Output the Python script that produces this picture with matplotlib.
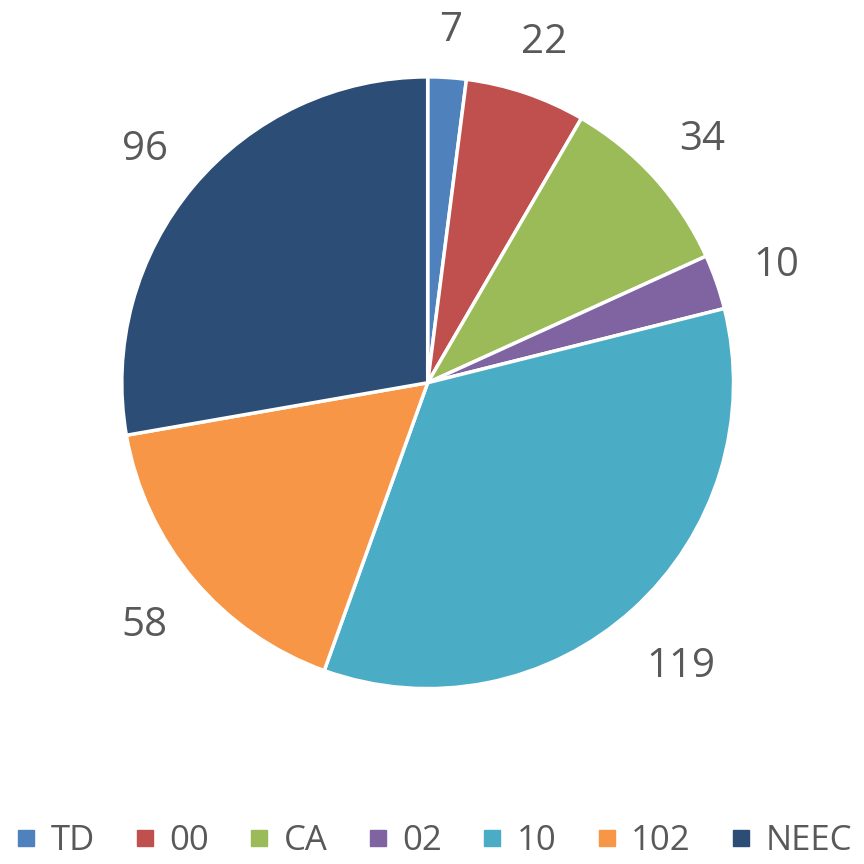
import matplotlib
matplotlib.use("Agg")
import matplotlib.pyplot as plt
from matplotlib.lines import Line2D
import numpy as np

categories = ["TD", "00", "CA", "02", "10", "102", "NEEC"]
values = [7, 22, 34, 10, 119, 58, 96]
colors = ["#4F81BD", "#C0504D", "#9BBB59", "#8064A2", "#4BACC6", "#F79646", "#2C4D75"]

plt.rcParams['font.family'] = ['Open Sans', 'DejaVu Sans']
DPI = 100
fig = plt.figure(figsize=(8.64, 8.64), dpi=DPI)
R = 0.354
cx, cy = 0.495, 0.557
ax = fig.add_axes([cx - R, cy - R, 2 * R, 2 * R])
label_fs = 29
wedges, texts = ax.pie(values, colors=colors, startangle=90, counterclock=False,
                       labels=[str(v) for v in values], labeldistance=1.2,
                       radius=1.0,
                       wedgeprops=dict(edgecolor="white", linewidth=2.5),
                       textprops=dict(fontsize=label_fs, color="#595959"))
ax.set_xlim(-1, 1)
ax.set_ylim(-1, 1)
ax.set_aspect("equal")
ax.axis("off")

# place labels Excel-like: bounding box a fixed gap outside the pie
fig.canvas.draw()
renderer = fig.canvas.get_renderer()
px_per_unit = 2 * R * 864 / 2.0
gap = 37.0
em_px = label_fs * DPI / 72.0
for w, t in zip(wedges, texts):
    ang = np.deg2rad((w.theta1 + w.theta2) / 2.0)
    bb = t.get_window_extent(renderer)
    hw = bb.width / 2.0
    hh = 0.36 * em_px
    ext = hw * abs(np.cos(ang)) + hh * abs(np.sin(ang))
    r = (px_per_unit + gap + ext) / px_per_unit
    t.set_position((r * np.cos(ang), r * np.sin(ang)))
    t.set_horizontalalignment("center")
    t.set_verticalalignment("center_baseline")

handles = [Line2D([0], [0], marker="s", linestyle="none", markersize=11,
                  markerfacecolor=c, markeredgecolor=c) for c in colors]
fig.legend(handles, categories, loc="center", bbox_to_anchor=(0.5, 0.027), ncol=7,
           frameon=False, fontsize=25, labelcolor="#595959", handletextpad=0.3,
           columnspacing=1.05, handlelength=0.8)
fig.savefig("out.png", dpi=DPI)
